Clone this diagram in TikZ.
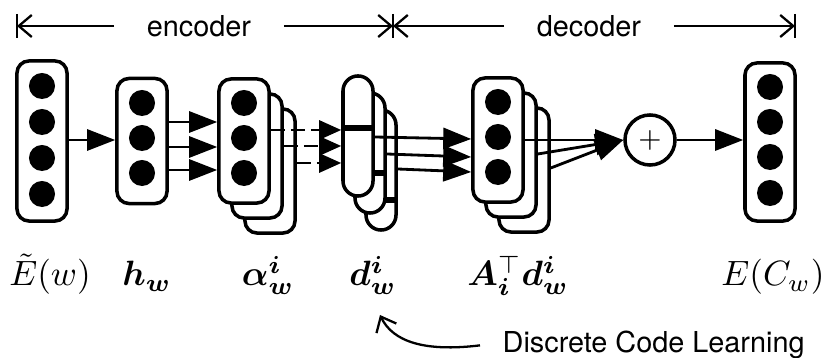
\documentclass[tikz,border=0pt]{standalone}
\usepackage{amsmath,bm}
\usepackage{fontspec}
\newfontfamily\labelfont{TeX Gyre Heros}
\usetikzlibrary{arrows.meta}

\begin{document}
\begin{tikzpicture}[
  x=0.01cm, y=-0.01cm,
  vecbox/.style={draw, line width=1pt, rounded corners=0.12cm, fill=white, minimum width=0.5cm, inner sep=0pt},
  unit/.style={circle, fill=black, minimum size=0.26cm, inner sep=0pt},
  codebox/.style={draw, line width=1pt, rounded corners=0.15cm, fill=white, minimum width=0.3cm, minimum height=1.2cm, inner sep=0pt},
  codebar/.style={line width=1.7pt},
  flow/.style={-{Triangle[length=2.8mm, width=2.1mm]}, line width=0.8pt},
  span/.style={-{Straight Barb[length=1.3mm, width=2.2mm]}, line width=0.65pt},
  varlabel/.style={anchor=base, font=\fontsize{9.8}{11}\selectfont},
  textlabel/.style={anchor=base, font=\fontsize{8.2}{10}\selectfont\labelfont, inner xsep=0.32cm}
]
\useasboundingbox (0,0) rectangle (824,358);

% Encoder / decoder span
\coordinate (encL) at (17,26);
\coordinate (mid) at (393,26);
\coordinate (decR) at (795,26);
\node[textlabel] (enc) at (199,37) {encoder};
\node[textlabel] (dec) at (589,37) {decoder};
\draw[span] (enc.west |- encL) -- (encL);
\draw[span] (enc.east |- encL) -- (mid);
\draw[span] (dec.west |- mid) -- (mid);
\draw[span] (dec.east |- decR) -- (decR);
\foreach \c in {encL,mid,decR}{\draw[line width=0.8pt] (\c) ++(0,-12) -- ++(0,24);}

% Input embedding and hidden layer
\node[vecbox, minimum height=1.6cm] (emb) at (42,141) {};
\foreach \k/\y in {1/86,2/122,3/158,4/194}{\node[unit] (emb\k) at (42,\y) {};}
\node[vecbox, minimum height=1.25cm] (hw) at (142,141) {};
\foreach \k/\y in {1/103,2/138,3/173}{\node[unit] (hw\k) at (142,\y) {};}

% Alpha stack (back to front)
\foreach \k/\x/\y in {3/270/171, 2/257/156, 1/244/141}{\node[vecbox, minimum height=1.24cm] (al\k) at (\x,\y) {};}
\foreach \k/\y in {1/103,2/138,3/173}{\node[unit] (alu\k) at (244,\y) {};}

% Discrete codes (back to front)
\foreach \k/\x/\y/\b in {3/381/170/200, 2/370/153/173, 1/358/136/128}{
  \node[codebox] (code\k) at (\x,\y) {};
  \draw[codebar] (code\k.west |- 0,\b) -- (code\k.east |- 0,\b);
}

% Reconstruction stack (back to front)
\foreach \k/\x/\y in {3/524/170, 2/511/155, 1/498/140}{\node[vecbox, minimum height=1.24cm] (rec\k) at (\x,\y) {};}
\foreach \k/\y in {1/102,2/137,3/172}{\node[unit] (recu\k) at (498,\y) {};}

% Sum and output embedding
\node[circle, draw, line width=1pt, minimum size=0.5cm, inner sep=0pt, font=\fontsize{8.5}{8}\selectfont] (sum) at (650,140) {$+$};
\node[vecbox, minimum height=1.58cm] (out) at (770,142) {};
\foreach \k/\y in {1/87,2/122,3/157,4/193}{\node[unit] (out\k) at (770,\y) {};}

% Connections
\draw[flow] (emb.east |- 0,140) -- (hw.west |- 0,140);
\foreach \y in {122,147,170}{\draw[flow] (hw.east |- 0,\y) -- (al1.west |- 0,\y);}
\foreach \k/\y in {1/130,2/146,3/163}{\draw[flow, -{Triangle[length=2.2mm, width=1.9mm]}, dash pattern=on 1.4mm off 0.6mm] (al\k.east |- 0,\y) -- (code1.west |- 0,\y);}
\foreach \k/\y/\z in {1/137/139,2/154/157,3/169/172}{\draw[flow] (code\k.east |- 0,\y) -- (rec1.west |- 0,\z);}
\foreach \k/\y in {1/140,2/154,3/168}{\draw[flow] (rec\k.east |- 0,\y) -- (sum.west);}
\draw[flow] (sum.east) -- (out.west |- sum);

% Labels
\node[varlabel] (lEmb) at (50,286) {$\tilde{E}(w)$};
\node[varlabel] (lHw) at (147,286) {$\bm{h}_{\bm{w}}$};
\node[varlabel] (lAl) at (268,286) {$\bm{\alpha}_{\bm{w}}^{\bm{i}}$};
\node[varlabel] (lCode) at (373,286) {$\bm{d}_{\bm{w}}^{\bm{i}}$};
\node[varlabel] (lRec) at (518,286) {$\bm{A}_{\bm{i}}^{\top}\bm{d}_{\bm{w}}^{\bm{i}}$};
\node[varlabel] (lOut) at (773,286) {$E(C_w)$};

% Discrete code learning note
\node[textlabel, anchor=base west, inner xsep=0pt] (dcl) at (502,353) {Discrete Code Learning};
\coordinate (codeTip) at (380,315);
\draw[span] ([xshift=-0.22cm]dcl.west) .. controls (425,352) and (393,342) .. (codeTip);
\end{tikzpicture}
\end{document}
